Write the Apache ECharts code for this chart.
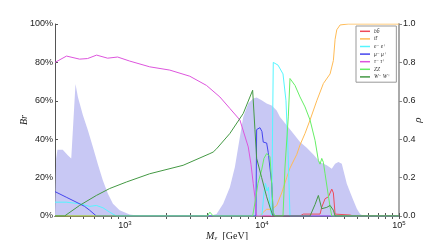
<!DOCTYPE html>
<html><head><meta charset="utf-8">
<script src="https://cdn.jsdelivr.net/npm/echarts@6/dist/echarts.min.js"></script>
<style>html,body{margin:0;padding:0;background:#fff}#c{width:443px;height:240px}</style>
</head><body><div id="c"></div>
<script>
// ---- axis ticks / labels ----
const xMajor = [1000, 10000, 100000];
const xMajorLabels = {1000: '3', 10000: '4', 100000: '5'};
const xMinor = [400,500,600,700,800,900,2000,3000,4000,5000,6000,7000,8000,9000,20000,30000,40000,50000,60000,70000,80000,90000];
const yLeftLabels = ['0%','20%','40%','60%','80%','100%'];
const yRightLabels = ['0.0','0.2','0.4','0.6','0.8','1.0'];
const legendNames = ['bb\u0304','tt\u0304','e\u207b e\u207a','\u03bc\u207b \u03bc\u207a','\u03c4\u207b \u03c4\u207a','ZZ','W\u207b W\u207a'];

// ---- data (mass in GeV, branching ratio / rho fraction) ----
const massBB = [309, 18957, 20040, 26546, 27318, 28878, 30527, 32326, 33209, 34173, 43990, 46502, 100000];
const brBB   = [0, 0, 0.01, 0.01, 0.046, 0.09, 0.10, 0.14, 0.12, 0.01, 0.005, 0, 0];

const massTT = [309, 9670, 10221, 10824, 11773, 12807, 13931, 15154, 16018, 17932, 18957, 20620, 22430, 25113, 28064, 31414, 33209, 34173, 35165, 37173, 42533, 100000];
const brTT   = [0, 0, 0.02, 0.035, 0.035, 0.055, 0.12, 0.2, 0.25, 0.32, 0.37, 0.43, 0.50, 0.60, 0.69, 0.74, 0.81, 0.92, 0.97, 0.995, 1.0, 1.0];

const massEE = [309, 373, 467, 553, 619, 691, 774, 866, 10000, 10344, 10607, 10878, 11155, 11442, 11773, 12034, 12095, 12238, 13091, 14239, 14976, 15488, 16018, 100000];
const brEE   = [0.072, 0.072, 0.064, 0.05, 0.055, 0.043, 0.02, 0, 0, 0.12, 0.17, 0.13, 0.15, 0.05, 0, 0, 0.80, 0.81, 0.786, 0.74, 0.60, 0.34, 0, 0];

const massMuMu = [309, 373, 454, 508, 553, 619, 9040, 9147, 9670, 10000, 10221, 10824, 11118, 11773, 12095, 100000];
const brMuMu   = [0.127, 0.098, 0.068, 0.05, 0.03, 0, 0, 0.45, 0.46, 0.44, 0.385, 0.38, 0.33, 0.17, 0, 0];

const massTauTau = [309, 375, 467, 534, 622, 748, 885, 1083, 1517, 2125, 2976, 3941, 4932, 5836, 6906, 7943, 8313, 8641, 8889, 9040, 9193, 100000];
const brTauTau   = [0.80, 0.833, 0.817, 0.82, 0.838, 0.822, 0.828, 0.807, 0.777, 0.76, 0.728, 0.68, 0.62, 0.56, 0.50, 0.36, 0.27, 0.168, 0.098, 0.02, 0, 0];

const massZZ = [309, 4000, 4168, 4405, 8554, 9040, 9349, 9950, 10344, 10824, 11118, 11442, 11773, 12095, 12445, 14239, 14726, 15567, 16018, 16484, 17427, 18957, 20620, 22430, 24404, 25798, 26546, 27318, 28064, 28878, 31414, 32326, 100000];
const brZZ   = [0, 0, 0.02, 0, 0, 0.1, 0.17, 0.24, 0.30, 0.325, 0.333, 0.31, 0.17, 0.02, 0, 0, 0.255, 0.516, 0.716, 0.725, 0.68, 0.62, 0.568, 0.50, 0.394, 0.29, 0.27, 0.30, 0.28, 0.22, 0.046, 0, 0];

const massWW = [309, 363, 467, 619, 774, 1025, 1517, 2658, 4168, 4288, 4405, 4665, 5836, 7303, 8554, 8889, 9147, 9950, 10824, 11442, 12034, 22430, 24404, 25798, 27318, 28064, 29717, 31414, 33209, 34173, 100000];
const brWW   = [0, 0, 0.055, 0.107, 0.143, 0.177, 0.22, 0.264, 0.325, 0.318, 0.333, 0.35, 0.43, 0.534, 0.655, 0.45, 0.30, 0.20, 0.10, 0.046, 0, 0, 0.06, 0.107, 0.038, 0.03, 0.045, 0.055, 0.03, 0, 0];

const massRho = [309, 315, 322, 352, 383, 406, 418, 436, 454, 494, 537, 584, 635, 691, 752, 818, 915, 1083, 1300, 4168, 4665, 5213, 5836, 6348, 6711, 7303, 7943, 8641, 9147, 9950, 10824, 11773, 12807, 13538, 15154, 16935, 18957, 21220, 23714, 26546, 29717, 32326, 34173, 36125, 38252, 39297, 41614, 43990, 46502, 49259, 52061, 55031, 100000];
const rho     = [0, 0.30, 0.345, 0.345, 0.316, 0.30, 0.30, 0.687, 0.62, 0.525, 0.446, 0.36, 0.27, 0.185, 0.116, 0.064, 0.03, 0.008, 0, 0, 0.01, 0.064, 0.15, 0.255, 0.36, 0.516, 0.586, 0.612, 0.617, 0.603, 0.586, 0.575, 0.55, 0.516, 0.473, 0.43, 0.385, 0.355, 0.32, 0.28, 0.264, 0.246, 0.272, 0.281, 0.272, 0.238, 0.168, 0.124, 0.081, 0.038, 0.01, 0, 0];

const zip = (a, b) => a.map((m, i) => [m, b[i]]);
const colors = ['#ee4a5a', '#ffbb55', '#55f5ff', '#4444ee', '#dd55dd', '#66ee66', '#449944'];
const brSeries = [
  [massBB, brBB], [massTT, brTT], [massEE, brEE], [massMuMu, brMuMu],
  [massTauTau, brTauTau], [massZZ, brZZ], [massWW, brWW]
];

const chart = echarts.init(document.getElementById('c'), null, {renderer: 'canvas'});
const sans = 'Liberation Sans, Arial, sans-serif';
const serif = 'Liberation Serif, DejaVu Serif, serif';

const series = [{
  name: 'rho', type: 'line', xAxisIndex: 0, yAxisIndex: 1,
  data: zip(massRho, rho), showSymbol: false, silent: true,
  lineStyle: {width: 0}, areaStyle: {color: '#c8c8f4', opacity: 1}, z: 1
}];
brSeries.forEach((s, i) => {
  series.push({
    name: legendNames[i], type: 'line', xAxisIndex: 0, yAxisIndex: 0,
    data: zip(s[0], s[1]), showSymbol: false, symbol: 'none',
    lineStyle: {width: 1, color: colors[i]}, itemStyle: {color: colors[i]}, z: 2 + i
  });
});

const xCommon = {
  type: 'log', logBase: 10, min: 309, max: 100000,
  splitLine: {show: false}
};

chart.setOption({
  animation: false,
  backgroundColor: '#fff',
  grid: {left: 55, right: 44, top: 24, bottom: 24, containLabel: false, outerBoundsMode: 'none'},
  legend: {
    data: legendNames, orient: 'vertical', left: 356, top: 26,
    icon: 'rect', itemWidth: 10, itemHeight: 1.5, itemGap: 1,
    padding: [2, 6, 2, 4], borderColor: '#999', borderWidth: 1, backgroundColor: '#fff',
    textStyle: {fontFamily: serif, fontStyle: 'italic', fontSize: 5.5, color: '#333', lineHeight: 6.6, padding: [0,0,0,-1]},
    itemStyle: {borderWidth: 0}
  },
  xAxis: [
    Object.assign({}, xCommon, {
      position: 'bottom',
      axisLine: {lineStyle: {color: '#555', width: 1}},
      axisTick: {inside: true, length: 3, customValues: xMinor.concat(xMajor), lineStyle: {color: '#555'}},
      axisLabel: {
        customValues: xMajor, margin: 4,
        formatter: v => '{b|10}{s|' + xMajorLabels[Math.round(v)] + '}',
        rich: {
          b: {fontSize: 9, fontFamily: sans, color: '#222', lineHeight: 11},
          s: {fontSize: 6, fontFamily: sans, color: '#222', verticalAlign: 'top', lineHeight: 11}
        }
      },
      name: '{m|M}{c|\u03c7}{g|  [GeV]}', nameLocation: 'middle', nameGap: 14, nameMoveOverlap: false,
      nameTextStyle: {
        rich: {
          m: {fontFamily: serif, fontStyle: 'italic', fontSize: 10, color: '#222', lineHeight: 12},
          c: {fontFamily: serif, fontStyle: 'italic', fontSize: 7, color: '#222', verticalAlign: 'bottom', lineHeight: 12},
          g: {fontFamily: serif, fontSize: 10, color: '#222', lineHeight: 12}
        }
      }
    }),
    Object.assign({}, xCommon, {
      position: 'top',
      axisLine: {lineStyle: {color: '#555', width: 1}},
      axisTick: {inside: true, length: 3, customValues: xMinor.concat(xMajor), lineStyle: {color: '#555'}},
      axisLabel: {show: false}
    })
  ],
  yAxis: [
    {
      type: 'value', min: 0, max: 1, interval: 0.2, position: 'left',
      splitLine: {show: false},
      axisLine: {show: true, lineStyle: {color: '#555', width: 1}},
      axisTick: {show: true, inside: true, length: 3, lineStyle: {color: '#555'}},
      axisLabel: {margin: 2, fontSize: 9, fontFamily: sans, color: '#222',
        formatter: v => yLeftLabels[Math.round(v * 5)]},
      name: 'Br', nameLocation: 'middle', nameGap: 26, nameMoveOverlap: false,
      nameTextStyle: {fontFamily: serif, fontStyle: 'italic', fontSize: 10, color: '#222'}
    },
    {
      type: 'value', min: 0, max: 1, interval: 0.2, position: 'right',
      splitLine: {show: false},
      axisLine: {show: true, lineStyle: {color: '#aaa', width: 2}},
      axisTick: {show: true, inside: false, length: 3, lineStyle: {color: '#888'}},
      axisLabel: {margin: 4, fontSize: 9, fontFamily: sans, color: '#222',
        formatter: v => yRightLabels[Math.round(v * 5)]},
      name: '\u03c1', nameLocation: 'middle', nameGap: 14, nameMoveOverlap: false,
      nameTextStyle: {fontFamily: serif, fontStyle: 'italic', fontSize: 11, color: '#222'}
    }
  ],
  series: series
});
</script>
</body></html>
